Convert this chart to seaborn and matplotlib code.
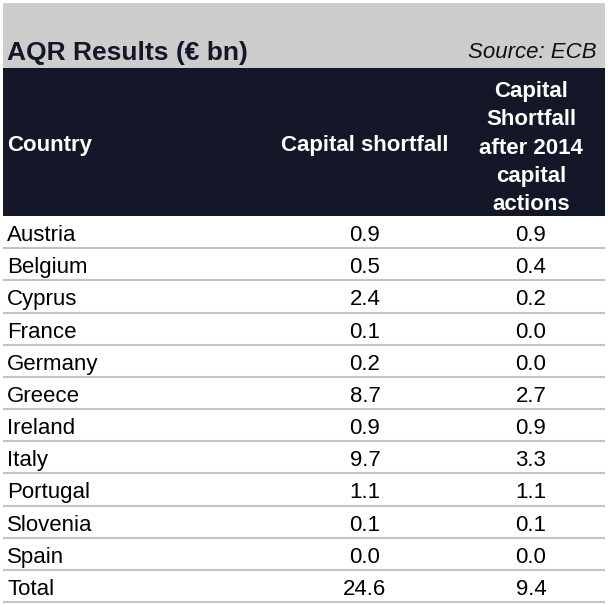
import matplotlib
matplotlib.use("Agg")
import matplotlib.pyplot as plt
import seaborn as sns

countries = ["Austria", "Belgium", "Cyprus", "France", "Germany", "Greece",
             "Ireland", "Italy", "Portugal", "Slovenia", "Spain", "Total"]
shortfall = [0.9, 0.5, 2.4, 0.1, 0.2, 8.7, 0.9, 9.7, 1.1, 0.1, 0.0, 24.6]
after_2014 = [0.9, 0.4, 0.2, 0.0, 0.0, 2.7, 0.9, 3.3, 1.1, 0.1, 0.0, 9.4]
headers = ["Country", "Capital shortfall",
           "Capital\nShortfall\nafter 2014\ncapital\nactions"]

sns.set_theme(style="white")
plt.rcParams["font.family"] = ["Liberation Sans", "DejaVu Sans"]

W, H = 608, 605
fig = plt.figure(figsize=(W / 100, H / 100), dpi=100)
ax = fig.add_axes([0, 0, 1, 1])
ax.set_xlim(0, W)
ax.set_ylim(H, 0)
ax.axis("off")

navy = "#141728"
left, right = 3, 605
top_band, head_top, head_bot = 3, 68, 216
row_h = (602 - head_bot) / len(countries)
col_x = [7, 365, 531]
fs = 16

# title band
ax.add_patch(plt.Rectangle((left, top_band), right - left, head_top - top_band,
                           color="#cdcdcd", lw=0))
ax.text(7, 53, "AQR Results (€ bn)", fontsize=19, fontweight="bold",
        color=navy, va="center", ha="left")
ax.text(597, 53, "Source: ECB", fontsize=16, fontstyle="italic",
        color="#111111", va="center", ha="right")

# header
ax.add_patch(plt.Rectangle((left, head_top), right - left, head_bot - head_top,
                           color=navy, lw=0))
hy = (head_top + head_bot) / 2 + 4
ax.text(col_x[0], hy, headers[0], fontsize=fs, fontweight="bold", color="white",
        va="center", ha="left")
ax.text(col_x[1], hy, headers[1], fontsize=fs, fontweight="bold", color="white",
        va="center", ha="center")
ax.text(col_x[2], hy + 2, headers[2], fontsize=fs, fontweight="bold", color="white",
        va="center", ha="center", linespacing=1.46)

# rows
for i, (c, a, b) in enumerate(zip(countries, shortfall, after_2014)):
    y0 = head_bot + i * row_h
    yc = y0 + row_h / 2 + 3.5
    ax.text(col_x[0], yc, c, fontsize=fs, color="black", va="center", ha="left")
    ax.text(col_x[1], yc, f"{a:.1f}", fontsize=fs, color="black", va="center", ha="center")
    ax.text(col_x[2], yc, f"{b:.1f}", fontsize=fs, color="black", va="center", ha="center")
    ax.plot([left, right], [y0 + row_h, y0 + row_h], color="#c4c4c4", lw=1.5,
            solid_capstyle="butt")

fig.savefig("out.png", dpi=100)
plt.close(fig)
